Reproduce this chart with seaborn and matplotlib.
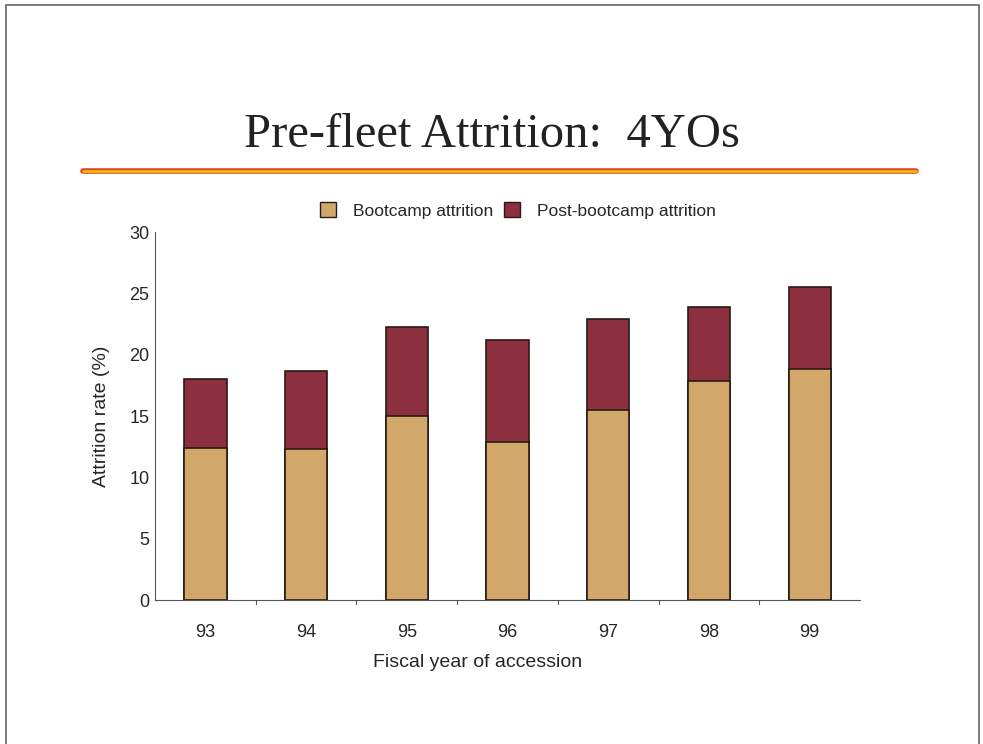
import pandas as pd
import matplotlib.pyplot as plt
import matplotlib.patches as mpatches
import matplotlib.lines as mlines
import numpy as np
import seaborn as sns

# DATOS
years = ["93", "94", "95", "96", "97", "98", "99"]
bootcamp = [12.4, 12.3, 15.0, 12.9, 15.5, 17.85, 18.8]
post_bootcamp = [5.6, 6.4, 7.25, 8.3, 7.4, 6.05, 6.7]

color_boot = "#D2A86A"
color_post = "#8C2F3E"

sns.set_style("white")
plt.rcParams['font.family'] = ['Liberation Sans', 'DejaVu Sans']

df = pd.DataFrame({"year": years, "boot": bootcamp, "post": post_bootcamp})
df["total"] = df["boot"] + df["post"]

fig = plt.figure(figsize=(9.83, 7.44), dpi=100)
ax = fig.add_axes([0.1577, 0.1935, 0.7172, 0.4945])

# Barras apiladas: total primero, luego bootcamp encima
sns.barplot(data=df, x="year", y="total", color=color_post, width=0.42,
            edgecolor="#2a1a14", linewidth=1.2, saturation=1, ax=ax)
sns.barplot(data=df, x="year", y="boot", color=color_boot, width=0.42,
            edgecolor="#2a1a14", linewidth=1.2, saturation=1, ax=ax)

ax.set_xlim(-0.5, 6.5)
ax.set_ylim(0, 30)
ax.set_yticks(np.arange(0, 31, 5))
ax.tick_params(axis="y", length=4, width=0.8, direction="out", labelsize=13, pad=0)
ax.tick_params(axis="x", length=0, labelsize=13, pad=17)
for b in np.arange(0.5, 6.5, 1):
    ax.plot([b, b], [0, -0.35], color="#555555", lw=0.8, clip_on=False)

sns.despine(ax=ax)
ax.spines["left"].set_color("#555555")
ax.spines["bottom"].set_color("#555555")
ax.spines["left"].set_linewidth(0.8)
ax.spines["bottom"].set_linewidth(0.8)

ax.set_xlabel("Fiscal year of accession", fontsize=14)
ax.xaxis.set_label_coords(0.458, -0.148)
ax.set_ylabel("Attrition rate (%)", fontsize=14, labelpad=14)

# Leyenda
handles = [
    mpatches.Patch(facecolor=color_boot, edgecolor="#2a1a14", label="Bootcamp attrition"),
    mpatches.Patch(facecolor=color_post, edgecolor="#2a1a14", label="Post-bootcamp attrition"),
]
fig.legend(handles=handles, loc="center", bbox_to_anchor=(0.527, 0.717), ncol=2,
           frameon=False, fontsize=12.5, handlelength=0.9, handleheight=0.9,
           columnspacing=0.6, handletextpad=1.0)

# Titulo y linea decorativa
fig.text(0.5, 0.818, "Pre-fleet Attrition:  4YOs", ha="center", va="center",
         fontsize=35, family="Liberation Serif", color="#222222")
fig.add_artist(mlines.Line2D([0.084, 0.932], [0.770, 0.770], color="#E0402A", lw=4.0))
fig.add_artist(mlines.Line2D([0.084, 0.932], [0.770, 0.770], color="#F5B800", lw=2.0))

# Marco
fig.add_artist(mpatches.Rectangle((0.006, -0.01), 0.990, 1.003, fill=False,
                                  edgecolor="#666666", lw=1.2))

plt.savefig("out.png", dpi=100)
